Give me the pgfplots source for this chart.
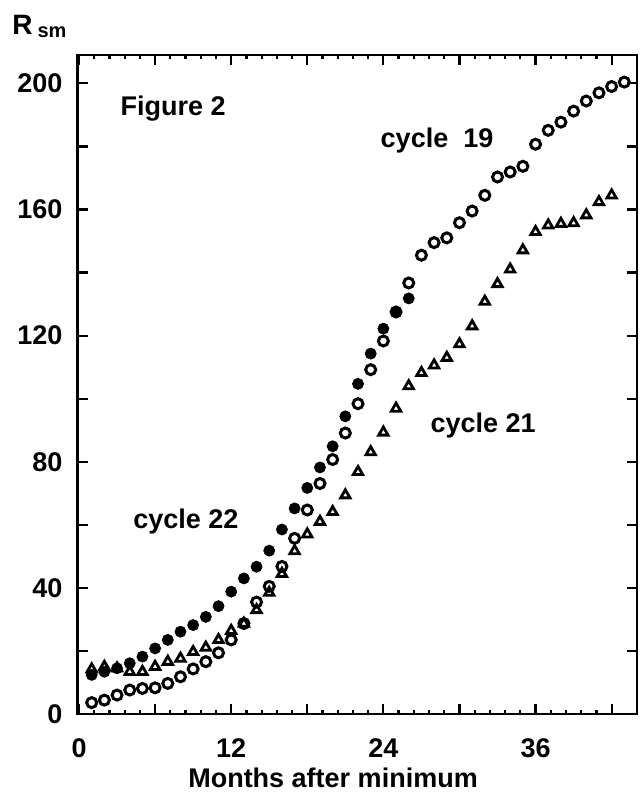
\documentclass[border=0pt]{standalone}
\usepackage{fontspec}
\setmainfont{Liberation Sans}
\usepackage{pgfplots}
\pgfplotsset{compat=1.18}
\begin{document}
\begin{tikzpicture}
\path[use as bounding box] (-38.75pt,-40.5pt) rectangle (280.75pt,357pt);
\begin{axis}[
  at={(0,0)}, anchor=south west,
  width=279.75pt, height=329.5pt, scale only axis,
  xmin=-0.12, xmax=44, ymin=0, ymax=209,
  axis line style={line width=1.3pt},
  xtick={0,6,...,42}, xticklabels={0,,12,,24,,36,},
  minor x tick num=4,
  ytick={0,20,...,200}, yticklabels={0,,40,,80,,120,,160,,200},
  major tick length=5pt, minor tick length=2.2pt,
  every tick/.style={line width=1.1pt, black},
  ticklabel style={font=\fontsize{13.5}{16}\selectfont\bfseries},
  xticklabel style={anchor=base, yshift=-22pt},
  yticklabel style={xshift=-4pt},
  clip=false,
]
% cycle 19 (open circles), months 0..42
\addplot[only marks, mark=o, mark size=2.5pt, mark options={line width=1.5pt, draw=black}] coordinates {
(1,3.6) (2,4.4) (3,6.0) (4,7.6) (5,8.1) (6,8.3) (7,9.7) (8,11.8) (9,14.3) (10,16.6)
(11,19.4) (12,23.5) (13,28.7) (14,35.5) (15,40.5) (16,46.8) (17,55.7) (18,64.7) (19,73.1) (20,80.7)
(21,89.1) (22,98.4) (23,109.2) (24,118.3) (25,127.5) (26,136.7) (27,145.5) (28,149.5) (29,151.0) (30,155.8)
(31,159.5) (32,164.5) (33,170.3) (34,171.9) (35,173.7) (36,180.7) (37,185.1) (38,187.7) (39,191.2) (40,194.4)
(41,197.0) (42,199.0) (43,200.4)
};
% cycle 22 (filled circles), months 0..25
\addplot[only marks, mark=*, mark size=2.8pt, mark options={fill=black, draw=black, line width=0.3pt}] coordinates {
(1,12.4) (2,13.4) (3,14.5) (4,16.1) (5,18.2) (6,20.8) (7,23.5) (8,26.1) (9,28.2) (10,30.8)
(11,34.2) (12,38.8) (13,43.0) (14,46.7) (15,51.8) (16,58.5) (17,65.2) (18,71.7) (19,78.2) (20,84.9)
(21,94.4) (22,104.7) (23,114.3) (24,122.2) (25,127.5) (26,131.8)
};
% cycle 21 (open triangles), months 0..41
\addplot[only marks, mark=triangle, mark size=2.7pt, mark options={line width=1.4pt, draw=black}] coordinates {
(1,14.2) (2,15.0) (3,14.5) (4,13.4) (5,13.4) (6,15.0) (7,16.6) (8,17.6) (9,19.7) (10,21.1)
(11,23.5) (12,26.4) (13,28.7) (14,33.0) (15,38.5) (16,44.5) (17,51.7) (18,57.0) (19,61.0) (20,64.1)
(21,69.4) (22,76.8) (23,83.1) (24,89.3) (25,96.9) (26,104.0) (27,108.2) (28,110.6) (29,113.0) (30,117.3)
(31,123.0) (32,130.8) (33,136.4) (34,141.0) (35,147.1) (36,152.9) (37,155.0) (38,155.5) (39,155.7) (40,158.2)
(41,162.4) (42,164.5)
};
\node[anchor=base west, inner sep=0, font=\fontsize{13.5}{16}\selectfont\bfseries] at (axis cs:3.24,189.9) {Figure 2};
\node[anchor=base west, inner sep=0, font=\fontsize{13.5}{16}\selectfont\bfseries] at (axis cs:23.76,179.7) {cycle\ \ 19};
\node[anchor=base west, inner sep=0, font=\fontsize{13.5}{16}\selectfont\bfseries] at (axis cs:27.7,89.4) {cycle 21};
\node[anchor=base west, inner sep=0, font=\fontsize{13.5}{16}\selectfont\bfseries] at (axis cs:4.26,58.95) {cycle 22};
\node[anchor=base west, inner sep=0, xshift=-32.75pt, yshift=10pt, font=\fontsize{14}{16}\selectfont\bfseries] at (rel axis cs:0,1) {R\hspace{2.5pt}{\fontsize{10}{12}\selectfont\raisebox{-1.5pt}{sm}}};
\node[anchor=base, inner sep=0, font=\fontsize{13.5}{16}\selectfont\bfseries] at (rel axis cs:0.4567,0) [yshift=-36.5pt] {Months after minimum};
\end{axis}
\end{tikzpicture}
\end{document}
